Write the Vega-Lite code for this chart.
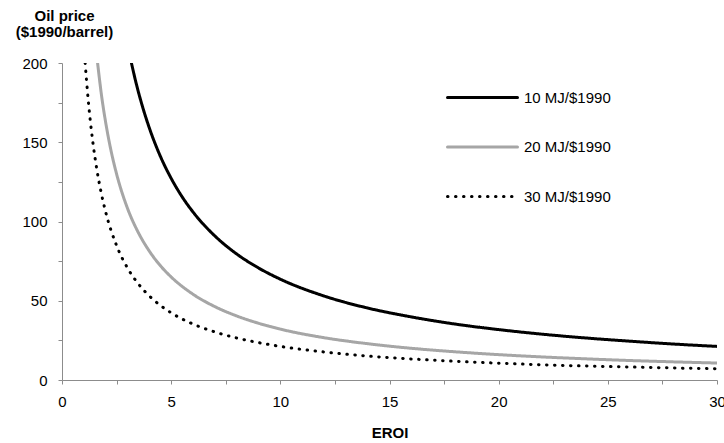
{
  "$schema": "https://vega.github.io/schema/vega-lite/v6.json",
  "autosize": {"type": "none"},
  "padding": {"left": 62, "top": 63, "right": 7, "bottom": 63},
  "width": 655,
  "height": 317,
  "background": "white",
  "config": {
    "view": {"stroke": null},
    "font": "Liberation Sans",
    "axis": {"grid": false, "domainColor": "#8c8c8c", "tickColor": "#8c8c8c", "tickSize": 4, "labelFont": "Liberation Sans", "labelFontSize": 15, "labelColor": "#000", "titleFont": "Liberation Sans", "titleFontSize": 15, "titleFontWeight": "bold", "titleColor": "#000"}
  },
  "data": {"values": [
    {"s": "10 MJ/$1990", "e": 3.18, "p": 200},
    {"s": "10 MJ/$1990", "e": 3.4, "p": 187},
    {"s": "10 MJ/$1990", "e": 3.7, "p": 171.9},
    {"s": "10 MJ/$1990", "e": 4, "p": 159},
    {"s": "10 MJ/$1990", "e": 4.5, "p": 141.3},
    {"s": "10 MJ/$1990", "e": 5, "p": 127.2},
    {"s": "10 MJ/$1990", "e": 5.5, "p": 115.6},
    {"s": "10 MJ/$1990", "e": 6, "p": 106},
    {"s": "10 MJ/$1990", "e": 7, "p": 90.9},
    {"s": "10 MJ/$1990", "e": 8, "p": 79.5},
    {"s": "10 MJ/$1990", "e": 9, "p": 70.7},
    {"s": "10 MJ/$1990", "e": 10, "p": 63.6},
    {"s": "10 MJ/$1990", "e": 12, "p": 53},
    {"s": "10 MJ/$1990", "e": 14, "p": 45.4},
    {"s": "10 MJ/$1990", "e": 16, "p": 39.8},
    {"s": "10 MJ/$1990", "e": 18, "p": 35.3},
    {"s": "10 MJ/$1990", "e": 20, "p": 31.8},
    {"s": "10 MJ/$1990", "e": 22, "p": 28.9},
    {"s": "10 MJ/$1990", "e": 24, "p": 26.5},
    {"s": "10 MJ/$1990", "e": 26, "p": 24.5},
    {"s": "10 MJ/$1990", "e": 28, "p": 22.7},
    {"s": "10 MJ/$1990", "e": 30, "p": 21.2},
    {"s": "20 MJ/$1990", "e": 1.63, "p": 200},
    {"s": "20 MJ/$1990", "e": 1.8, "p": 180.6},
    {"s": "20 MJ/$1990", "e": 2, "p": 162.5},
    {"s": "20 MJ/$1990", "e": 2.25, "p": 144.4},
    {"s": "20 MJ/$1990", "e": 2.5, "p": 130},
    {"s": "20 MJ/$1990", "e": 3, "p": 108.3},
    {"s": "20 MJ/$1990", "e": 3.5, "p": 92.9},
    {"s": "20 MJ/$1990", "e": 4, "p": 81.3},
    {"s": "20 MJ/$1990", "e": 4.5, "p": 72.2},
    {"s": "20 MJ/$1990", "e": 5, "p": 65},
    {"s": "20 MJ/$1990", "e": 6, "p": 54.1},
    {"s": "20 MJ/$1990", "e": 7, "p": 46.3},
    {"s": "20 MJ/$1990", "e": 8, "p": 40.4},
    {"s": "20 MJ/$1990", "e": 9, "p": 35.8},
    {"s": "20 MJ/$1990", "e": 10, "p": 32.1},
    {"s": "20 MJ/$1990", "e": 12, "p": 26.7},
    {"s": "20 MJ/$1990", "e": 14, "p": 22.9},
    {"s": "20 MJ/$1990", "e": 16, "p": 20},
    {"s": "20 MJ/$1990", "e": 18, "p": 17.8},
    {"s": "20 MJ/$1990", "e": 20, "p": 16},
    {"s": "20 MJ/$1990", "e": 22, "p": 14.55},
    {"s": "20 MJ/$1990", "e": 24, "p": 13.35},
    {"s": "20 MJ/$1990", "e": 26, "p": 12.3},
    {"s": "20 MJ/$1990", "e": 28, "p": 11.45},
    {"s": "20 MJ/$1990", "e": 30, "p": 10.7},
    {"s": "30 MJ/$1990", "e": 1.06, "p": 200},
    {"s": "30 MJ/$1990", "e": 1.2, "p": 176.7},
    {"s": "30 MJ/$1990", "e": 1.4, "p": 151.4},
    {"s": "30 MJ/$1990", "e": 1.6, "p": 132.5},
    {"s": "30 MJ/$1990", "e": 1.8, "p": 117.8},
    {"s": "30 MJ/$1990", "e": 2, "p": 106},
    {"s": "30 MJ/$1990", "e": 2.5, "p": 84.8},
    {"s": "30 MJ/$1990", "e": 3, "p": 70.7},
    {"s": "30 MJ/$1990", "e": 3.5, "p": 60.6},
    {"s": "30 MJ/$1990", "e": 4, "p": 53},
    {"s": "30 MJ/$1990", "e": 4.5, "p": 47.1},
    {"s": "30 MJ/$1990", "e": 5, "p": 42.4},
    {"s": "30 MJ/$1990", "e": 6, "p": 35.3},
    {"s": "30 MJ/$1990", "e": 7, "p": 30.3},
    {"s": "30 MJ/$1990", "e": 8, "p": 26.5},
    {"s": "30 MJ/$1990", "e": 9, "p": 23.6},
    {"s": "30 MJ/$1990", "e": 10, "p": 21.2},
    {"s": "30 MJ/$1990", "e": 12, "p": 17.7},
    {"s": "30 MJ/$1990", "e": 14, "p": 15.1},
    {"s": "30 MJ/$1990", "e": 16, "p": 13.3},
    {"s": "30 MJ/$1990", "e": 18, "p": 11.8},
    {"s": "30 MJ/$1990", "e": 20, "p": 10.6},
    {"s": "30 MJ/$1990", "e": 22, "p": 9.6},
    {"s": "30 MJ/$1990", "e": 24, "p": 8.8},
    {"s": "30 MJ/$1990", "e": 26, "p": 8.2},
    {"s": "30 MJ/$1990", "e": 28, "p": 7.6},
    {"s": "30 MJ/$1990", "e": 30, "p": 7.1}
  ]},
  "mark": {"type": "line", "strokeWidth": 3, "strokeCap": "round", "interpolate": "monotone", "clip": true},
  "encoding": {
    "x": {"field": "e", "type": "quantitative", "scale": {"domain": [0, 30], "nice": false},
      "axis": {"title": "EROI", "values": [0, 2.5, 5, 7.5, 10, 12.5, 15, 17.5, 20, 22.5, 25, 27.5, 30], "labelExpr": "datum.value % 5 === 0 ? datum.label : ''", "labelPadding": 10, "titlePadding": 16, "labelFlush": false}},
    "y": {"field": "p", "type": "quantitative", "scale": {"domain": [0, 200], "nice": false},
      "axis": {"title": ["Oil price", "($1990/barrel)"], "values": [0, 25, 50, 75, 100, 125, 150, 175, 200], "labelExpr": "datum.value % 50 === 0 ? datum.label : ''", "labelPadding": 11, "titleAngle": 0, "titleAlign": "center", "titleBaseline": "top", "titleX": 2, "titleY": -55, "titleLineHeight": 16}},
    "color": {"field": "s", "type": "nominal", "scale": {"domain": ["10 MJ/$1990", "20 MJ/$1990", "30 MJ/$1990"], "range": ["#000000", "#a6a6a6", "#000000"]},
      "legend": {"orient": "none", "legendX": 384, "legendY": -2, "title": null, "symbolType": "stroke", "symbolSize": 4900, "symbolStrokeWidth": 3, "labelFontSize": 15, "labelFont": "Liberation Sans", "labelColor": "#000", "labelOffset": 5, "rowPadding": 4.5, "padding": 0,
        "encode": {"symbols": {"update": {"strokeCap": {"value": "round"}}}}}},
    "strokeDash": {"field": "s", "type": "nominal", "scale": {"domain": ["10 MJ/$1990", "20 MJ/$1990", "30 MJ/$1990"], "range": [[1, 0], [1, 0], [0.5, 7.5]]}}
  }
}
